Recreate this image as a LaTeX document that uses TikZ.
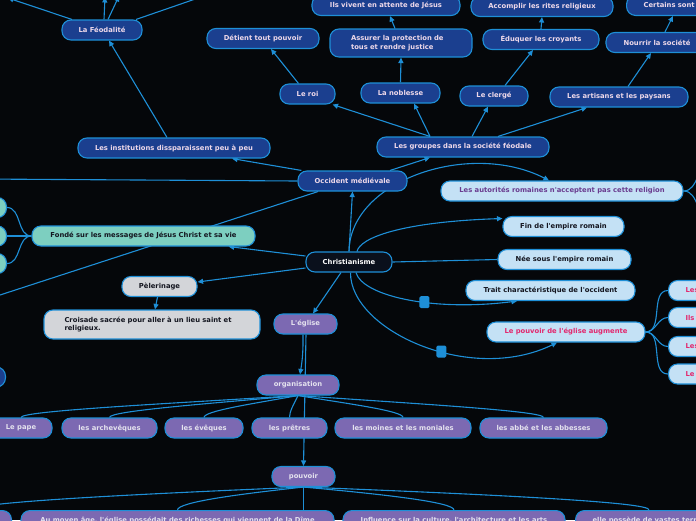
\documentclass[tikz,border=0pt]{standalone}
\usepackage{fontspec}
\newfontfamily\mf{DejaVu Sans}
\usetikzlibrary{arrows.meta}
\definecolor{bgc}{RGB}{5,7,10}
\definecolor{lnc}{RGB}{30,143,215}
\definecolor{dkb}{RGB}{27,63,143}
\definecolor{dkt}{RGB}{238,217,234}
\definecolor{lbf}{RGB}{196,225,245}
\definecolor{purf}{RGB}{124,105,178}
\definecolor{purt}{RGB}{228,226,238}
\definecolor{tealf}{RGB}{125,207,192}
\definecolor{grayf}{RGB}{211,213,217}
\definecolor{chf}{RGB}{10,16,28}
\definecolor{violt}{RGB}{106,60,143}
\definecolor{pinkt}{RGB}{226,40,110}
\definecolor{darkt}{RGB}{20,22,32}
\pgfdeclarelayer{back}\pgfdeclarelayer{edges}\pgfsetlayers{back,edges,main}
\begin{document}
\begin{tikzpicture}[x=1pt,y=-1pt,
 nbox/.style={draw=lnc, line width=1.1pt, rounded corners=9pt, minimum height=20pt, inner sep=0pt, font=\mf\fontsize{6.8}{8.4}\selectfont\bfseries},
 dk/.style={nbox, fill=dkb, text=dkt},
 lb/.style={nbox, fill=lbf, text=darkt},
 tl/.style={nbox, fill=tealf, text=darkt},
 gr/.style={nbox, fill=grayf, text=darkt},
 pu/.style={nbox, fill=purf, text=purt},
 chn/.style={nbox, fill=chf, text=white},
 sq/.style={fill=lnc, minimum width=10pt, minimum height=12pt, inner sep=0pt, rounded corners=1.5pt},
 con/.style={draw=lnc, line width=1.1pt},
 arr/.style={con, -{Triangle[length=5.5pt,width=5pt]}},
]
\useasboundingbox (0,0) rectangle (696,520);
\begin{pgfonlayer}{back}
\fill[bgc] (0,0) rectangle (696,520);
\end{pgfonlayer}
% nodes
\node[dk, minimum width=148pt] (vivent) at (386,5.5) {Ils vivent en attente de Jésus};
\node[dk, minimum width=142pt] (accomplir) at (542,6.5) {Accomplir les rites religieux};
\node[dk, anchor=south west, inner xsep=17pt] (certains) at (626,16) {Certains sont};
\node[dk, minimum width=80pt] (feod) at (102,30) {La Féodalité};
\node[dk, minimum width=112pt] (detient) at (263,38.5) {Détient tout pouvoir};
\node[dk, minimum width=142pt, minimum height=28pt, text width=100pt, align=left] (assurer) at (401,43) {Assurer la protection de\\tous et rendre justice};
\node[dk, minimum width=55pt] (roi) at (307.5,94) {Le roi};
\node[dk, minimum width=79pt] (noblesse) at (400.5,93) {La noblesse};
\node[dk, minimum width=116pt] (eduquer) at (541,39.5) {Éduquer les croyants};
\node[dk, minimum width=68pt] (clerge) at (494,96) {Le clergé};
\node[dk, minimum width=138pt] (artisans) at (619,97) {Les artisans et les paysans};
\node[dk, minimum width=102pt] (nourrir) at (657,42.5) {Nourrir la société};
\node[dk, minimum width=172pt] (groupes) at (463,147) {Les groupes dans la société féodale};
\node[dk, minimum width=192pt] (instit) at (174,148) {Les institutions dissparaissent peu à peu};
\node[dk, minimum width=109pt] (occident) at (352.5,181) {Occident médiévale};
\node[lb, text=violt, minimum width=242pt] (autorites) at (562,191) {Les autorités romaines n'acceptent pas cette religion};
\node[chn, minimum width=86pt] (christ) at (349,262) {Christianisme};
\node[tl, minimum width=223pt] (fonde) at (143.5,236) {Fondé sur les messages de Jésus Christ et sa vie};
\node[lb, minimum width=121pt] (fin) at (563.5,226.5) {Fin de l'empire romain};
\node[lb, minimum width=133pt] (nee) at (564.5,259.5) {Née sous l'empire romain};
\node[lb, minimum width=169pt] (trait) at (550.5,290.5) {Trait charactéristique de l'occident};
\node[lb, text=pinkt, minimum width=158pt] (pouvaug) at (566,332) {Le pouvoir de l'église augmente};
\node[lb, text=pinkt, anchor=west, inner xsep=17pt] (r1) at (668,290.5) {Les};
\node[lb, text=pinkt, anchor=west, inner xsep=17pt] (r2) at (668,317.5) {Ils};
\node[lb, text=pinkt, anchor=west, inner xsep=17pt] (r3) at (668,346.5) {Les};
\node[lb, text=pinkt, anchor=west, inner xsep=17pt] (r4) at (668,374) {Le};
\node[tl, anchor=east, minimum width=90pt] (t1) at (7,207.5) {};
\node[tl, anchor=east, minimum width=90pt] (t2) at (7,236) {};
\node[tl, anchor=east, minimum width=90pt] (t3) at (7,263.5) {};
\node[dk, anchor=east, minimum width=90pt] (l1) at (6,377) {};
\node[gr, minimum width=75pt] (pel) at (159.5,286.5) {Pèlerinage};
\node[gr, minimum width=216pt, minimum height=29pt, text width=175pt, align=left] (crois) at (152,324.5) {Croisade sacrée pour aller à un lieu saint et\\religieux.};
\node[pu, minimum width=63pt] (eglise) at (305.5,324) {L'église};
\node[pu, minimum width=82pt] (org) at (298,385) {organisation};
\node[pu, minimum width=62pt] (pape) at (21,428) {Le pape};
\node[pu, minimum width=95pt] (arch) at (109.5,428) {les archevêques};
\node[pu, minimum width=78pt] (eveq) at (204,428) {les évêques};
\node[pu, minimum width=75pt] (pretres) at (289.5,428) {les prêtres};
\node[pu, minimum width=136pt] (moines) at (403,428) {les moines et les moniales};
\node[pu, minimum width=127pt] (abbe) at (543.5,428) {les abbé et les abbesses};
\node[pu, minimum width=63pt] (pouv) at (303.5,476.5) {pouvoir};
\node[pu, anchor=north east, minimum width=80pt] (b0) at (12,510) {};
\node[pu, anchor=north, minimum width=313pt] (moyen) at (177.5,510) {Au moyen âge, l'église possédait des richesses qui viennent de la Dîme};
\node[pu, anchor=north, minimum width=222pt] (influence) at (454,510) {Influence sur la culture, l'architecture et les arts};
\node[pu, anchor=north west, inner xsep=17pt] (elle) at (575,510) {elle possède de vastes terres};
% free ends
\coordinate (fa) at (8,-2);
\coordinate (fb) at (105,-3);
\coordinate (fc) at (119,-4);
\coordinate (fd) at (204,-4);
\coordinate (ocl) at (-20,179);
\coordinate (oc2) at (-20,301.5);
\coordinate (ar1) at (712,163);
\coordinate (ar2) at (712,220);
\coordinate (pdn) at (303.5,540);
% edges
\begin{pgfonlayer}{edges}
\draw[arr] ([xshift=-30pt]feod.north) -- (fa);
\draw[arr] ([xshift=2pt]feod.north) -- (fb);
\draw[arr] ([xshift=6pt]feod.north) -- (fc);
\draw[con] ([xshift=34pt]feod.north) -- (fd);
\draw[arr] ([xshift=-7pt]instit.north) -- ([xshift=7pt]feod.south);
\draw[arr] ([xshift=-9pt]roi.north) -- ([xshift=8pt]detient.south);
\draw[arr] (noblesse.north) -- (assurer.south);
\draw[arr] ([xshift=-6pt]assurer.north) -- ([xshift=4pt]vivent.south);
\draw[arr] (eduquer.north) -- (accomplir.south);
\draw[arr] ([xshift=11pt]clerge.north) -- ([xshift=-8pt]eduquer.south);
\draw[arr] ([xshift=9pt]artisans.north) -- ([xshift=-6pt]nourrir.south);
\draw[arr] ([xshift=8pt]nourrir.north) -- ([xshift=47pt]certains.south west);
\draw[arr] ([xshift=-33pt]groupes.north) -- ([xshift=-3pt]roi.south east);
\draw[arr] ([xshift=-33pt]groupes.north) -- ([xshift=13.5pt]noblesse.south);
\draw[arr] ([xshift=9pt]groupes.north) -- ([xshift=-6pt]clerge.south);
\draw[arr] ([xshift=35pt]groupes.north) -- ([xshift=-32pt]artisans.south);
\draw[arr] ([xshift=37.5pt]occident.north) -- ([xshift=-33pt]groupes.south);
\draw[arr] ([xshift=4pt]occident.north west) -- ([xshift=58pt]instit.south);
\draw[con] (occident.west) -- (ocl);
\draw[con] ([xshift=-34.5pt]occident.south) -- (oc2);
\draw[arr] (christ.north) -- (occident.south);
\draw[arr] (christ.north) .. controls (350,180) and (470,140) .. ([xshift=-13pt]autorites.north);
\draw[arr] ([xshift=8pt]christ.north) .. controls (360,238) and (400,222) .. ([yshift=8pt]fin.west);
\draw[con] (christ.east) -- (nee.west);
\draw[arr] ([xshift=7pt]christ.south) .. controls (362,295) and (430,312) .. ([xshift=-33.5pt]trait.south) node[sq,pos=0.6]{};
\draw[arr] ([xshift=1.5pt]christ.south) .. controls (350,330) and (470,385) .. ([xshift=-9pt]pouvaug.south) node[sq,pos=0.58]{};
\draw[arr] ([yshift=6pt]christ.west) -- ([xshift=-27pt]fonde.south east);
\draw[arr] ([yshift=-6pt]christ.west) -- ([yshift=4.5pt]pel.east);
\draw[arr] ([xshift=-2pt]pel.south) -- ([xshift=3pt]crois.north);
\draw[arr] ([xshift=-8pt]christ.south) -- ([xshift=7.5pt]eglise.north);
\draw[arr] ([xshift=-2.5pt]eglise.south) to[bend left=5] ([xshift=2pt]org.north);
\draw[arr] ([xshift=0.5pt]eglise.south) -- (pouv.north);
\foreach \n in {t1,t2,t3} \draw[con] (fonde.west) to[out=180,in=0] (\n.east);
\foreach \n in {r1,r2,r3,r4} \draw[con] (pouvaug.east) to[out=0,in=180] (\n.west);
\draw[con] (autorites.east) to[out=0,in=180] (ar1);
\draw[con] (autorites.east) to[out=0,in=180] (ar2);
\draw[con] (org.south) .. controls (160,404) and (21,411) .. (pape.north);
\draw[con] (org.south) .. controls (204,404) and (109.5,411) .. (arch.north);
\draw[con] (org.south) .. controls (251,404) and (204,411) .. (eveq.north);
\draw[con] (org.south) .. controls (294,404) and (289.5,411) .. (pretres.north);
\draw[con] (org.south) .. controls (350,404) and (403,411) .. (moines.north);
\draw[con] (org.south) .. controls (420,404) and (543.5,411) .. (abbe.north);
\draw[con] (pouv.south) .. controls (140,494) and (-28,502) .. (b0.north);
\draw[con] (pouv.south) .. controls (240,494) and (177.5,502) .. (moyen.north);
\draw[con] (pouv.south) -- (pdn);
\draw[con] (pouv.south) .. controls (380,494) and (454,502) .. (influence.north);
\draw[con] (pouv.south) .. controls (480,494) and (653,502) .. (elle.north);
\end{pgfonlayer}
\end{tikzpicture}
\end{document}
